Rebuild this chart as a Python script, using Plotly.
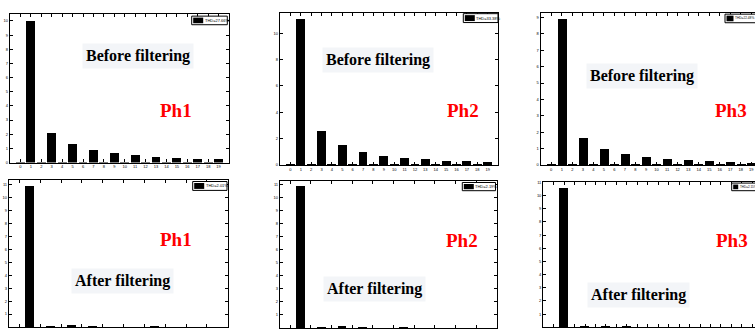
import plotly.graph_objects as go

W, H = 755, 331

harmonics = list(range(20))

ph1_before = [0.04, 10.0, 0.04, 2.12, 0.04, 1.30, 0.04, 0.89, 0.04, 0.68,
              0.04, 0.54, 0.04, 0.42, 0.04, 0.33, 0.04, 0.27, 0.04, 0.25]
ph2_before = [0.04, 11.08, 0.04, 2.57, 0.04, 1.50, 0.04, 1.00, 0.04, 0.72,
              0.04, 0.55, 0.04, 0.43, 0.04, 0.35, 0.04, 0.30, 0.04, 0.22]
ph3_before = [0.03, 8.90, 0.03, 1.67, 0.03, 1.00, 0.03, 0.70, 0.03, 0.52,
              0.03, 0.38, 0.03, 0.30, 0.03, 0.24, 0.03, 0.18, 0.03, 0.16]
ph1_after = [0, 10.9, 0, 0.02, 0, 0.15, 0, 0.08, 0, 0,
             0, 0, 0, 0.03, 0, 0, 0, 0, 0, 0]
ph2_after = [0, 10.9, 0, 0.03, 0, 0.15, 0, 0.10, 0, 0,
             0, 0.03, 0, 0, 0, 0, 0, 0, 0, 0]
ph3_after = [0, 10.6, 0, 0.10, 0, 0.15, 0, 0.07, 0, 0.03,
             0, 0.02, 0, 0, 0, 0, 0, 0, 0, 0]

thd_labels = ["THD=27.66%", "THD=33.38%", "THD=22.48%",
              "THD=2.01%", "THD=2.19%", "THD=2.15%"]
phase_labels = ["Ph1", "Ph2", "Ph3", "Ph1", "Ph2", "Ph3"]
stage_labels = ["Before filtering"] * 3 + ["After filtering"] * 3

xticks_all = list(range(0, 20))
xticks_even = list(range(0, 20, 2))

series = [ph1_before, ph2_before, ph3_before, ph1_after, ph2_after, ph3_after]

# panel layout in pixels: (x0, x1, y_top, y_bottom, xmax, ymax, ytick list, xtick list)
panels = [
    (10, 229, 12, 162.5, 20, 10.5, list(range(0, 11)), xticks_all),
    (280, 498, 11, 165, 20, 11.55, list(range(0, 11, 2)), xticks_all),
    (540.7, 755, 11, 165, 19.35, 9.28, list(range(0, 10)), xticks_all),
    (9, 227.7, 180, 329, 20, 11.36, list(range(1, 12)), xticks_even),
    (280, 496.7, 181, 330, 20, 11.28, list(range(1, 12)), xticks_even),
    (543.3, 755, 181.7, 329.3, 19.26, 11.07, list(range(1, 12)), xticks_all),
]

# text placement (px)
stage_pos = [(138, 55), (378, 59), (642, 75), (122, 282), (374, 291), (638, 297)]
phase_pos = [(175.5, 110), (462.5, 110), (730.5, 110), (175.5, 240), (462.3, 241), (731.7, 241)]
legend_pos = [(191.7, 14.3, 227.3, 23.0), (463.3, 11.8, 498.0, 20.8), (725, 12.3, 762, 21),
              (192.7, 181.7, 227.0, 190.7), (462.3, 182.7, 495.5, 191), (731.7, 183.3, 770, 191)]
legend_swatch = [10, 10, 7, 10, 10, 5]
legend_font = [4, 4, 3.2, 4, 4, 3.0]


def px(x):
    return x / W


def py(y):
    return 1 - y / H


fig = go.Figure()
shapes = []
annotations = []

for i, (vals, pan) in enumerate(zip(series, panels)):
    x0, x1, yt, yb, xmax, ymax, yticks, xticks = pan
    k = i + 1
    xa = "x" if k == 1 else f"x{k}"
    ya = "y" if k == 1 else f"y{k}"
    fig.add_trace(go.Bar(x=harmonics, y=vals, width=0.85,
                         marker=dict(color="black", line=dict(width=0)),
                         xaxis=xa, yaxis=ya, showlegend=False))
    is_ph3 = (i % 3 == 2)
    xkey = "xaxis" if k == 1 else f"xaxis{k}"
    ykey = "yaxis" if k == 1 else f"yaxis{k}"
    fig.update_layout(**{
        xkey: dict(domain=[px(x0), px(x1)], range=[-1, xmax], anchor=ya,
                   tickmode="array", tickvals=xticks,
                   ticktext=[str(v) for v in xticks],
                   ticks="inside", ticklen=3, tickcolor="black", tickwidth=1,
                   showline=True, linecolor="black", linewidth=1.3,
                   mirror="ticks", showgrid=False, zeroline=False,
                   tickfont=dict(size=4, color="black", family="Liberation Sans"),
                   showticklabels=(i < 3)),
        ykey: dict(domain=[py(yb), py(yt)], range=[0, ymax], anchor=xa,
                   tickmode="array", tickvals=yticks,
                   ticktext=[str(v) for v in yticks],
                   ticks="inside", ticklen=3, tickcolor="black", tickwidth=1,
                   showline=True, linecolor="black", linewidth=1.3,
                   mirror=(False if is_ph3 else "ticks"),
                   showgrid=False, zeroline=False,
                   tickfont=dict(size=4, color="black", family="Liberation Sans")),
    })

    sx, sy = stage_pos[i]
    annotations.append(dict(x=px(sx), y=py(sy), xref="paper", yref="paper",
                            text=f"<b>{stage_labels[i]}</b>", showarrow=False,
                            xanchor="center", yanchor="middle",
                            font=dict(family="Liberation Serif", size=16, color="black"),
                            bgcolor="#f3f5f8", borderpad=3))
    phx, phy = phase_pos[i]
    annotations.append(dict(x=px(phx), y=py(phy), xref="paper", yref="paper",
                            text=f"<b>{phase_labels[i]}</b>", showarrow=False,
                            xanchor="center", yanchor="middle",
                            font=dict(family="Liberation Serif", size=19, color="#ff0000")))
    lx0, ly0, lx1, ly1 = legend_pos[i]
    sw = legend_swatch[i]
    shapes.append(dict(type="rect", xref="paper", yref="paper",
                       x0=px(lx0), x1=px(lx1), y0=py(ly1), y1=py(ly0),
                       line=dict(color="black", width=1), fillcolor="white"))
    shapes.append(dict(type="rect", xref="paper", yref="paper",
                       x0=px(lx0 + 1.5), x1=px(lx0 + 1.5 + sw), y0=py(ly1 - 1.5), y1=py(ly0 + 1.5),
                       line=dict(width=0), fillcolor="black"))
    annotations.append(dict(x=px(lx0 + 2 + sw), y=py((ly0 + ly1) / 2), xref="paper", yref="paper",
                            text=thd_labels[i], showarrow=False,
                            xanchor="left", yanchor="middle", borderpad=0,
                            font=dict(family="Liberation Sans", size=legend_font[i], color="black")))

fig.update_layout(width=W, height=H, autosize=False,
                  margin=dict(l=0, r=0, t=0, b=0),
                  paper_bgcolor="white", plot_bgcolor="white",
                  bargap=0, shapes=shapes, annotations=annotations)

fig.write_html("out.html")
